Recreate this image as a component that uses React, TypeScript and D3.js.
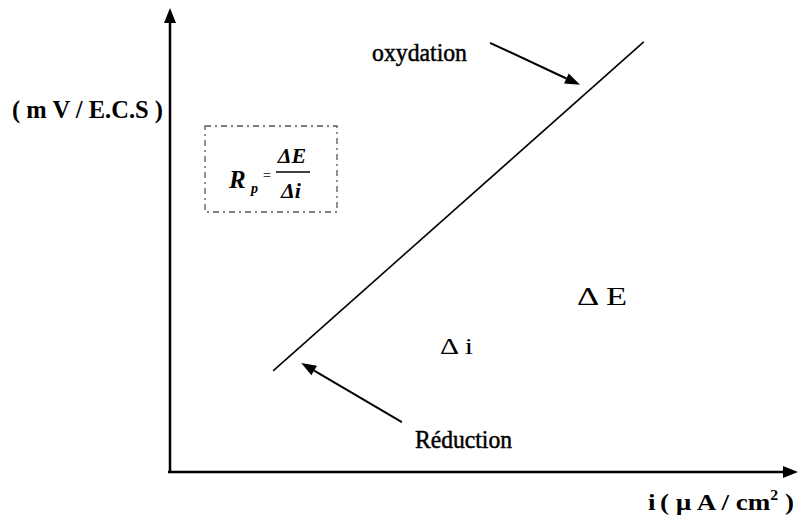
import React from "react";
import * as d3 from "d3";

// Polarisation line E = f(i) near the corrosion potential (arbitrary units)
const lineI = [16.5, 75.8];
const lineE = [21.9, 93.1];

// Annotation arrows: [tail, head] in (i, E)
const oxArrowI = [51.2, 65.6];
const oxArrowE = [92.9, 83.8];
const redArrowI = [37.1, 21.0];
const redArrowE = [10.8, 23.6];

const labels = {
  yAxis: "( m V / E.C.S )",
  ox: "oxydation",
  red: "Réduction",
  dE: "Δ E",
  di: "Δ i",
};

const W = 800;
const H = 515;
const FONT = '"Liberation Serif", "Times New Roman", Times, serif';

export default function App() {
  const x = d3.scaleLinear().domain([0, 100]).range([170, 795]);
  const y = d3.scaleLinear().domain([0, 100]).range([472, 10]);

  const line = d3
    .line<number>()
    .x((_, k) => x(lineI[k]))
    .y((_, k) => y(lineE[k]));

  const arrow = (ii: number[], ee: number[], key: string) => {
    const x0 = x(ii[0]);
    const y0 = y(ee[0]);
    const x1 = x(ii[1]);
    const y1 = y(ee[1]);
    const a = Math.atan2(y1 - y0, x1 - x0);
    const L = 15;
    const hw = 5.5;
    const bx = x1 - L * Math.cos(a);
    const by = y1 - L * Math.sin(a);
    const px = -Math.sin(a) * hw;
    const py = Math.cos(a) * hw;
    return (
      <g key={key}>
        <line x1={x0} y1={y0} x2={bx} y2={by} stroke="#000" strokeWidth={2} />
        <path
          d={`M${x1},${y1}L${bx + px},${by + py}L${bx - px},${by - py}Z`}
          fill="#000"
        />
      </g>
    );
  };

  const x0 = x(0);
  const y0 = y(0);

  return (
    <svg
      width={W}
      height={H}
      style={{ position: "absolute", left: 0, top: 0, background: "#fff", fontFamily: FONT }}
    >
      {/* axes */}
      <line x1={x0} y1={y0} x2={x0} y2={22} stroke="#000" strokeWidth={2.5} />
      <path d={`M${x0},8L${x0 - 6},23L${x0 + 6},23Z`} fill="#000" />
      <line x1={x0 - 2} y1={y0} x2={784} y2={y0} stroke="#000" strokeWidth={2.5} />
      <path d={`M798,${y0}L783,${y0 - 6}L783,${y0 + 6}Z`} fill="#000" />

      {/* polarisation line */}
      <path d={line(lineI) ?? ""} fill="none" stroke="#000" strokeWidth={1.6} />

      {arrow(oxArrowI, oxArrowE, "ox")}
      {arrow(redArrowI, redArrowE, "red")}

      {/* texts */}
      <text
        x={12}
        y={118}
        fontSize={25}
        fontWeight="bold"
        textLength={151}
        lengthAdjust="spacingAndGlyphs"
      >
        {labels.yAxis}
      </text>
      <text
        x={372}
        y={61}
        fontSize={25}
        stroke="#000"
        strokeWidth={0.5}
        textLength={95}
        lengthAdjust="spacingAndGlyphs"
      >
        {labels.ox}
      </text>
      <text
        x={415}
        y={448}
        fontSize={25}
        stroke="#000"
        strokeWidth={0.5}
        textLength={97}
        lengthAdjust="spacingAndGlyphs"
      >
        {labels.red}
      </text>
      <text x={577} y={305} fontSize={26} textLength={50} lengthAdjust="spacingAndGlyphs">
        {labels.dE}
      </text>
      <text x={440} y={354} fontSize={24} textLength={33} lengthAdjust="spacingAndGlyphs">
        {labels.di}
      </text>
      <text x={648} y={510} fontSize={24} fontWeight="bold" textLength={146} lengthAdjust="spacingAndGlyphs">
        i
        <tspan dx={4}>( µ A / cm</tspan>
        <tspan dy={-10} fontSize={14}>2</tspan>
        <tspan dy={10}> )</tspan>
      </text>

      {/* Rp box */}
      <rect
        x={205}
        y={126}
        width={132}
        height={86}
        fill="none"
        stroke="#555"
        strokeWidth={1.3}
        strokeDasharray="6 4 2 4"
      />
      <g fontWeight="bold" fontStyle="italic">
        <text x={229} y={188} fontSize={25}>R</text>
        <text x={251} y={193} fontSize={14}>p</text>
        <text x={263} y={180} fontSize={14} fontStyle="normal" fill="#444">=</text>
        <text x={292} y={163} fontSize={22} textAnchor="middle">ΔE</text>
        <line x1={276} y1={172} x2={310} y2={172} stroke="#000" strokeWidth={1.4} />
        <text x={291} y={198} fontSize={22} textAnchor="middle">Δi</text>
      </g>
    </svg>
  );
}
